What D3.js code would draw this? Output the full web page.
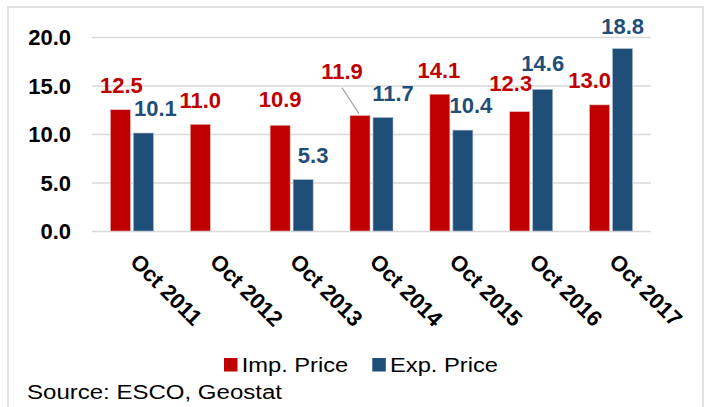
<!DOCTYPE html>
<html>
<head>
<meta charset="utf-8">
<script src="https://cdn.jsdelivr.net/npm/d3@7"></script>
<style>
  body { margin: 0; background: #fff; }
  svg { display: block; font-family: "Liberation Sans", Arial, sans-serif; }
</style>
</head>
<body>
<div id="chart"></div>
<script>
// Data
var categories = ['Oct 2011', 'Oct 2012', 'Oct 2013', 'Oct 2014', 'Oct 2015', 'Oct 2016', 'Oct 2017'];
var impPrice = [12.5, 11.0, 10.9, 11.9, 14.1, 12.3, 13.0];
var expPrice = [10.1, null, 5.3, 11.7, 10.4, 14.6, 18.8];
var yTicks = [0, 5, 10, 15, 20];
var seriesNames = ['Imp. Price', 'Exp. Price'];

// Manual label nudges (dx, dy from bar centre / bar top), as in the original layout
var impNudge = [[1, -17], [0, -16], [0, -18], [-18, -37], [-1, -16], [-9, -21], [-10, -17]];
var expNudge = [[12, -17], [0, 0], [10, -17], [10, -17], [8, -17], [0, -18], [0, -15]];

var W = 720, H = 407;
var RED = '#C00000', BLUE = '#1F4E79', GRID = '#d9d9d9';

var svg = d3.select('#chart').append('svg').attr('width', W).attr('height', H);

// Outer frame
svg.append('rect')
    .attr('x', 8).attr('y', 7)
    .attr('width', 695).attr('height', 420)
    .attr('fill', 'none')
    .attr('stroke', GRID)
    .attr('stroke-width', 1.5);

var x = d3.scaleBand().domain(categories).range([92, 651]).padding(0);
var y = d3.scaleLinear().domain([0, 20]).range([231, 37]);
var BAR_W = 20, GAP = 3;

// Gridlines + y tick labels
var yAxis = d3.axisLeft(y).tickValues(yTicks).tickSize(-(651 - 92)).tickFormat(d3.format('.1f'));
var gy = svg.append('g').attr('transform', 'translate(92,0)').call(yAxis);
gy.select('.domain').remove();
gy.selectAll('.tick line').attr('stroke', GRID).attr('stroke-width', 1.5);
gy.selectAll('.tick text')
    .attr('x', -21)
    .attr('dy', '0.36em')
    .attr('fill', '#000')
    .style('font-size', '22px')
    .style('font-weight', 'bold')
    .style('font-family', '"Liberation Sans", Arial, sans-serif');

// Bars
var groups = svg.append('g').selectAll('g')
    .data(categories)
    .enter().append('g')
    .attr('transform', function(d) { return 'translate(' + (x(d) + x.bandwidth() / 2) + ',0)'; });

groups.append('rect')
    .attr('x', -BAR_W - GAP / 2)
    .attr('width', BAR_W)
    .attr('y', function(d, i) { return y(impPrice[i]); })
    .attr('height', function(d, i) { return y(0) - y(impPrice[i]); })
    .attr('fill', RED)
    .attr('stroke', '#e9b3b3').attr('stroke-width', 0.6);

groups.filter(function(d, i) { return expPrice[i] !== null; })
    .append('rect')
    .attr('x', GAP / 2)
    .attr('width', BAR_W)
    .attr('y', function(d) { return y(expPrice[categories.indexOf(d)]); })
    .attr('height', function(d) { return y(0) - y(expPrice[categories.indexOf(d)]); })
    .attr('fill', BLUE)
    .attr('stroke', '#a9bccd').attr('stroke-width', 0.6);

// Data labels
var labelStyle = function(sel) {
    sel.attr('text-anchor', 'middle')
        .style('font-size', '22px')
        .style('font-weight', 'bold');
};

categories.forEach(function(c, i) {
    var cx = x(c) + x.bandwidth() / 2;
    var rx = cx - BAR_W / 2 - GAP / 2;
    var lx = rx + impNudge[i][0], ly = y(impPrice[i]) + impNudge[i][1];
    if (i === 3) {
        // leader line back to the bar
        svg.append('line')
            .attr('x1', lx).attr('y1', ly + 9)
            .attr('x2', rx - 1).attr('y2', y(impPrice[i]) - 2)
            .attr('stroke', '#a6a6a6').attr('stroke-width', 1.2);
    }
    svg.append('text')
        .attr('x', lx).attr('y', ly)
        .attr('fill', RED)
        .text(d3.format('.1f')(impPrice[i]))
        .call(labelStyle);

    if (expPrice[i] !== null) {
        var bx = cx + BAR_W / 2 + GAP / 2;
        svg.append('text')
            .attr('x', bx + expNudge[i][0]).attr('y', y(expPrice[i]) + expNudge[i][1])
            .attr('fill', BLUE)
            .text(d3.format('.1f')(expPrice[i]))
            .call(labelStyle);
    }
});

// Rotated category labels
svg.append('g').selectAll('text')
    .data(categories)
    .enter().append('text')
    .attr('transform', function(d) {
        return 'translate(' + (x(d) + x.bandwidth() / 2 - 3) + ',263) rotate(45)';
    })
    .attr('fill', '#000')
    .style('font-size', '22px')
    .style('font-weight', 'bold')
    .text(function(d) { return d; });

// Legend
var legendItems = [
    { name: seriesNames[0], color: RED, sx: 224, tx: 241.7, len: 106.6 },
    { name: seriesNames[1], color: BLUE, sx: 372.3, tx: 390, len: 108 }
];
var legend = svg.append('g');
legendItems.forEach(function(it) {
    legend.append('rect')
        .attr('x', it.sx).attr('y', 358)
        .attr('width', 13.5).attr('height', 13.5)
        .attr('fill', it.color);
    legend.append('text')
        .attr('x', it.tx).attr('y', 372.3)
        .attr('textLength', it.len)
        .attr('lengthAdjust', 'spacingAndGlyphs')
        .style('font-size', '20.5px')
        .attr('fill', '#000')
        .text(it.name);
});

// Source note
svg.append('text')
    .attr('x', 27).attr('y', 399.3)
    .attr('textLength', 255)
    .attr('lengthAdjust', 'spacingAndGlyphs')
    .style('font-size', '20px')
    .attr('fill', '#000')
    .text('Source: ESCO, Geostat');
</script>
</body>
</html>
